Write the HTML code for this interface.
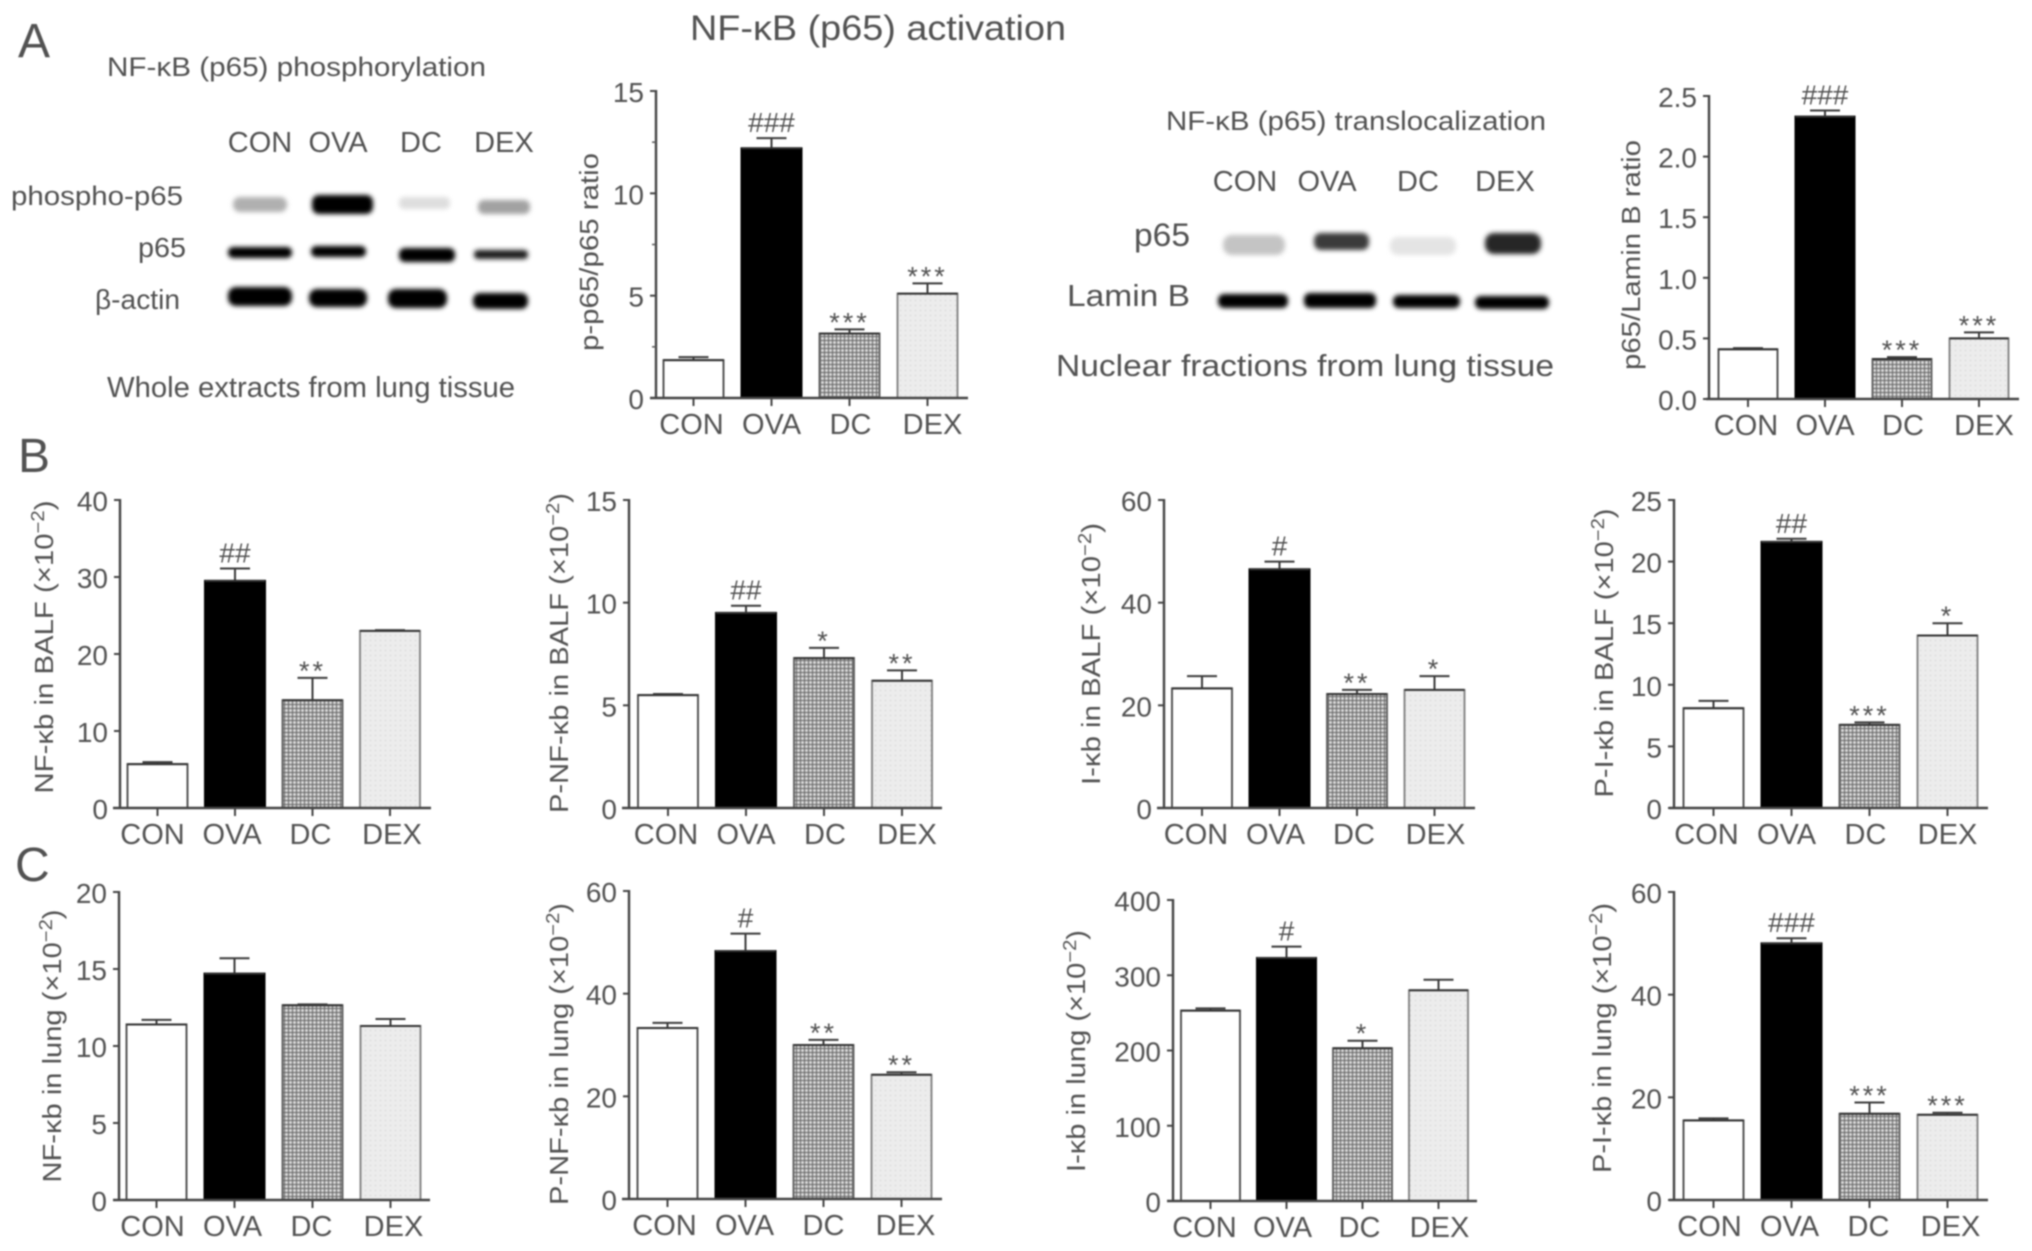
<!DOCTYPE html>
<html lang="en">
<head>
<meta charset="utf-8">
<title>NF-κB (p65) activation</title>
<style>
html,body{margin:0;padding:0;background:#fff;width:2032px;height:1251px;overflow:hidden}
svg{display:block;filter:blur(0.75px)}
text{font-family:"Liberation Sans",sans-serif;fill:#525252}
</style>
</head>
<body>
<svg id="figure" xmlns="http://www.w3.org/2000/svg" width="2032" height="1251" viewBox="0 0 2032 1251">
<defs>
<pattern id="hatch-grid" width="4" height="4" patternUnits="userSpaceOnUse"><rect width="4" height="4" fill="#d6d6d6"/><path d="M0 .5H4M.5 0V4" stroke="#666" stroke-width="1"/></pattern>
<pattern id="dots-light" width="5" height="5" patternUnits="userSpaceOnUse"><rect width="5" height="5" fill="#ececec"/><rect width="1" height="1" fill="#ccc"/></pattern>
<filter id="blot-blur" x="-30%" y="-100%" width="160%" height="300%"><feGaussianBlur stdDeviation="2.4"/></filter>
</defs>
<text x="690" y="40" font-size="35" textLength="376" lengthAdjust="spacingAndGlyphs">NF-κB (p65) activation</text>
<text x="18" y="57" font-size="48">A</text>
<text x="18" y="472" font-size="48">B</text>
<text x="15" y="881" font-size="48">C</text>
<text x="107" y="76" font-size="27" textLength="379" lengthAdjust="spacingAndGlyphs">NF-κB (p65) phosphorylation</text>
<text x="260" y="152" font-size="29" text-anchor="middle">CON</text>
<text x="338" y="152" font-size="29" text-anchor="middle">OVA</text>
<text x="421" y="152" font-size="29" text-anchor="middle">DC</text>
<text x="504" y="152" font-size="29" text-anchor="middle">DEX</text>
<text x="11" y="205" font-size="27" textLength="172" lengthAdjust="spacingAndGlyphs">phospho-p65</text>
<text x="138" y="257" font-size="28" textLength="48" lengthAdjust="spacingAndGlyphs">p65</text>
<text x="95" y="309" font-size="28" textLength="85" lengthAdjust="spacingAndGlyphs">β-actin</text>
<text x="107" y="397" font-size="29" textLength="408" lengthAdjust="spacingAndGlyphs">Whole extracts from lung tissue</text>
<text x="1166" y="130" font-size="27" textLength="380" lengthAdjust="spacingAndGlyphs">NF-κB (p65) translocalization</text>
<text x="1245" y="191" font-size="29" text-anchor="middle">CON</text>
<text x="1327" y="191" font-size="29" text-anchor="middle">OVA</text>
<text x="1418" y="191" font-size="29" text-anchor="middle">DC</text>
<text x="1505" y="191" font-size="29" text-anchor="middle">DEX</text>
<text x="1134" y="246" font-size="32" textLength="56" lengthAdjust="spacingAndGlyphs">p65</text>
<text x="1067" y="306" font-size="31" textLength="123" lengthAdjust="spacingAndGlyphs">Lamin B</text>
<text x="1056" y="376" font-size="31" textLength="498" lengthAdjust="spacingAndGlyphs">Nuclear fractions from lung tissue</text>
<g filter="url(#blot-blur)">
<rect x="233" y="197" width="54" height="15" rx="7" fill="#b0b0b0"/>
<rect x="312" y="195" width="61" height="19" rx="7" fill="#000"/>
<rect x="399" y="197" width="51" height="12" rx="5" fill="#dedede"/>
<rect x="478" y="200" width="52" height="14" rx="6" fill="#a2a2a2"/>
<rect x="228" y="247" width="64" height="11" rx="5" fill="#000"/>
<rect x="311" y="246" width="55" height="11" rx="5" fill="#000"/>
<rect x="399" y="248" width="56" height="14" rx="6" fill="#000"/>
<rect x="474" y="250" width="54" height="9" rx="4" fill="#1c1c1c"/>
<rect x="228" y="287" width="64" height="19" rx="8" fill="#000"/>
<rect x="309" y="289" width="58" height="18" rx="8" fill="#000"/>
<rect x="388" y="289" width="59" height="19" rx="8" fill="#000"/>
<rect x="473" y="293" width="55" height="16" rx="7" fill="#000"/>
</g>
<g filter="url(#blot-blur)">
<rect x="1223" y="235" width="62" height="20" rx="9" fill="#c4c4c4"/>
<rect x="1314" y="233" width="55" height="17" rx="7" fill="#3a3a3a"/>
<rect x="1390" y="237" width="66" height="18" rx="8" fill="#e4e4e4"/>
<rect x="1485" y="233" width="56" height="21" rx="9" fill="#282828"/>
<rect x="1218" y="294" width="70" height="14" rx="6" fill="#000"/>
<rect x="1304" y="293" width="72" height="15" rx="6" fill="#000"/>
<rect x="1393" y="295" width="67" height="13" rx="6" fill="#000"/>
<rect x="1475" y="296" width="74" height="13" rx="6" fill="#000"/>
</g>
</svg>
<script>
const categories = ['CON', 'OVA', 'DC', 'DEX'];

const a1Ticks = ['0', '5', '10', '15'];
const a1Means = [1.85, 12.2, 3.15, 5.1];
const a1Upper = [2.0, 12.7, 3.35, 5.6];
const a1Marks = ['', '###', '***', '***'];

const a2Ticks = ['0.0', '0.5', '1.0', '1.5', '2.0', '2.5'];
const a2Means = [0.41, 2.33, 0.33, 0.5];
const a2Upper = [0.42, 2.38, 0.345, 0.55];
const a2Marks = ['', '###', '***', '***'];

const b1Ticks = ['0', '10', '20', '30', '40'];
const b1Means = [5.7, 29.5, 14, 23];
const b1Upper = [5.95, 31.1, 16.9, 23.1];
const b1Marks = ['', '##', '**', ''];

const b2Ticks = ['0', '5', '10', '15'];
const b2Means = [5.5, 9.5, 7.3, 6.2];
const b2Upper = [5.55, 9.85, 7.8, 6.7];
const b2Marks = ['', '##', '*', '**'];

const b3Ticks = ['0', '20', '40', '60'];
const b3Means = [23.3, 46.5, 22.2, 23];
const b3Upper = [25.7, 48, 23, 25.7];
const b3Marks = ['', '#', '**', '*'];

const b4Ticks = ['0', '5', '10', '15', '20', '25'];
const b4Means = [8.1, 21.6, 6.75, 14];
const b4Upper = [8.7, 21.85, 6.95, 15];
const b4Marks = ['', '##', '***', '*'];

const c1Ticks = ['0', '5', '10', '15', '20'];
const c1Means = [11.4, 14.7, 12.65, 11.3];
const c1Upper = [11.7, 15.7, 12.7, 11.75];
const c1Marks = ['', '', '', ''];

const c2Ticks = ['0', '20', '40', '60'];
const c2Means = [33.3, 48.3, 30, 24.2];
const c2Upper = [34.3, 51.7, 31, 24.7];
const c2Marks = ['', '#', '**', '**'];

const c3Ticks = ['0', '100', '200', '300', '400'];
const c3Means = [253, 323, 203, 280];
const c3Upper = [256, 338, 213, 294];
const c3Marks = ['', '#', '*', ''];

const c4Ticks = ['0', '20', '40', '60'];
const c4Means = [15.5, 50, 16.8, 16.6];
const c4Upper = [15.9, 51, 19, 17];
const c4Marks = ['', '###', '***', '***'];

const labelNudge = [-3, -1, 0, 4];
const barFills = ['#ffffff', '#000000', 'url(#hatch-grid)', 'url(#dots-light)'];
const barStrokes = ['#555', '#000', '#666', '#888'];

const panels = [
  {id: 'p-p65-chart', ticks: a1Ticks, means: a1Means, upper: a1Upper, marks: a1Marks, ax: 656, xl: 650, xr: 968, y0: 398, yt: 91, c0: 693.5, step: 78, w: 60, shift: 1, title: 'p-p65/p65 ratio', sup: '', tx: 589, tmid: 252, tlen: 198, minor: 2.5},
  {id: 'lamin-ratio-chart', ticks: a2Ticks, means: a2Means, upper: a2Upper, marks: a2Marks, ax: 1709, xl: 1706, xr: 2019, y0: 399, yt: 96, c0: 1748, step: 77, w: 59, shift: 1, title: 'p65/Lamin B ratio', sup: '', tx: 1631, tmid: 255, tlen: 230},
  {id: 'nfkb-balf-chart', ticks: b1Ticks, means: b1Means, upper: b1Upper, marks: b1Marks, ax: 120, xl: 113, xr: 431, y0: 808, yt: 500, c0: 157.5, step: 77.5, w: 60, shift: -2, title: 'NF-κb in BALF (×10', sup: '−2', tx: 44, tmid: 647, tlen: 293},
  {id: 'p-nfkb-balf-chart', ticks: b2Ticks, means: b2Means, upper: b2Upper, marks: b2Marks, ax: 629, xl: 622, xr: 942, y0: 808, yt: 500, c0: 668, step: 78, w: 60, shift: 1, title: 'P-NF-κb in BALF (×10', sup: '−2', tx: 559, tmid: 653, tlen: 320},
  {id: 'ikb-balf-chart', ticks: b3Ticks, means: b3Means, upper: b3Upper, marks: b3Marks, ax: 1164, xl: 1157, xr: 1475, y0: 808, yt: 500, c0: 1202, step: 77.5, w: 60, shift: -3, title: 'I-κb in BALF (×10', sup: '−2', tx: 1091, tmid: 654, tlen: 262},
  {id: 'p-ikb-balf-chart', ticks: b4Ticks, means: b4Means, upper: b4Upper, marks: b4Marks, ax: 1674, xl: 1669, xr: 1988, y0: 808, yt: 500, c0: 1713.5, step: 78, w: 60, shift: -4, title: 'P-I-κb in BALF (×10', sup: '−2', tx: 1604, tmid: 653, tlen: 289},
  {id: 'nfkb-lung-chart', ticks: c1Ticks, means: c1Means, upper: c1Upper, marks: c1Marks, ax: 119, xl: 113, xr: 430, y0: 1200, yt: 892, c0: 156.5, step: 78, w: 60, shift: -1, title: 'NF-κb in lung (×10', sup: '−2', tx: 52, tmid: 1046, tlen: 273},
  {id: 'p-nfkb-lung-chart', ticks: c2Ticks, means: c2Means, upper: c2Upper, marks: c2Marks, ax: 629, xl: 622, xr: 942, y0: 1199, yt: 891, c0: 667.5, step: 78, w: 60, shift: 0, title: 'P-NF-κb in lung (×10', sup: '−2', tx: 559, tmid: 1054, tlen: 302},
  {id: 'ikb-lung-chart', ticks: c3Ticks, means: c3Means, upper: c3Upper, marks: c3Marks, ax: 1173, xl: 1167, xr: 1477, y0: 1201, yt: 900, c0: 1210.5, step: 76, w: 59, shift: -3, title: 'I-κb in lung (×10', sup: '−2', tx: 1076, tmid: 1051, tlen: 242},
  {id: 'p-ikb-lung-chart', ticks: c4Ticks, means: c4Means, upper: c4Upper, marks: c4Marks, ax: 1674, xl: 1669, xr: 1988, y0: 1200, yt: 892, c0: 1713.5, step: 78, w: 60, shift: -1, title: 'P-I-κb in lung (×10', sup: '−2', tx: 1602, tmid: 1038, tlen: 270}
];

const NS = 'http://www.w3.org/2000/svg';
const figure = document.getElementById('figure');

function make(tag, attrs, parent) {
  const node = document.createElementNS(NS, tag);
  Object.keys(attrs).forEach(function (k) { node.setAttribute(k, attrs[k]); });
  parent.appendChild(node);
  return node;
}

function yScale(p) {
  const maxTick = Number(p.ticks[p.ticks.length - 1]);
  return function (v) { return p.y0 - (v / maxTick) * (p.y0 - p.yt); };
}

function xCenter(p, i) {
  return p.c0 + i * p.step;
}

panels.forEach(function (p) {
  const y = yScale(p);
  const g = make('g', {}, figure);
  
  

  categories.forEach(function (cat, i) {
    const cx = xCenter(p, i);
    const key = cat.toLowerCase();
    const top = y(p.means[i]);
    const up = y(p.upper[i]);

    const stem = make('line', {x1: cx, x2: cx, y1: top, y2: up, stroke: '#3a3a3a', 'stroke-width': 2}, g);
    
    

    const cap = make('line', {x1: cx - 15, x2: cx + 15, y1: up, y2: up, stroke: '#3a3a3a', 'stroke-width': 2}, g);
    
    

    const bar = make('rect', {x: cx - p.w / 2, y: top, width: p.w, height: p.y0 - top, fill: barFills[i], stroke: barStrokes[i], 'stroke-width': 2}, g);
    
    

    const topEdge = make('line', {x1: cx - p.w / 2, x2: cx + p.w / 2, y1: top, y2: top, stroke: '#333', 'stroke-width': 2}, g);
    
    

    const tick = make('line', {x1: cx, x2: cx, y1: p.y0, y2: p.y0 + 8, stroke: '#444', 'stroke-width': 2}, g);
    
    

    const label = make('text', {x: cx + labelNudge[i] + p.shift, y: p.y0 + 36, 'font-size': 29, 'text-anchor': 'middle'}, g);
    label.textContent = cat;
    
    

    const mark = p.marks[i];
    if (mark) {
      const isHash = mark.charAt(0) === '#';
      const sig = make('text', {
        x: cx,
        y: isHash ? up - 6 : up + 2,
        'font-size': isHash ? 28 : 27,
        'text-anchor': 'middle',
        'letter-spacing': isHash ? 0 : 3
      }, g);
      sig.textContent = mark;
      
      
    }
  });

  const yAxis = make('line', {x1: p.ax, x2: p.ax, y1: p.yt - 1, y2: p.y0, stroke: '#444', 'stroke-width': 2.4}, g);
  
  

  const xAxis = make('line', {x1: p.xl, x2: p.xr, y1: p.y0, y2: p.y0, stroke: '#444', 'stroke-width': 2.6}, g);
  
  

  p.ticks.forEach(function (t) {
    const ty = y(Number(t));
    const tick = make('line', {x1: p.ax - 6, x2: p.ax, y1: ty, y2: ty, stroke: '#444', 'stroke-width': 2}, g);
    
    

    const label = make('text', {x: p.ax - 12, y: ty + 11, 'font-size': 28, 'text-anchor': 'end'}, g);
    label.textContent = t;
    
    
  });

  if (p.minor) {
    const maxTick = Number(p.ticks[p.ticks.length - 1]);
    for (let v = p.minor; v < maxTick; v += p.minor * 2) {
      const my = y(v);
      const minor = make('line', {x1: p.ax - 4, x2: p.ax, y1: my, y2: my, stroke: '#555', 'stroke-width': 1.5}, g);
      
      
    }
  }

  const title = make('text', {
    transform: 'translate(' + p.tx + ',' + p.tmid + ') rotate(-90)',
    x: 0, y: 9, 'font-size': 26, 'text-anchor': 'middle',
    textLength: p.tlen, lengthAdjust: 'spacingAndGlyphs'
  }, g);
  
  
  title.appendChild(document.createTextNode(p.title));
  if (p.sup) {
    const sup = make('tspan', {dy: -9, 'font-size': 18}, title);
    sup.textContent = p.sup;
    const close = make('tspan', {dy: 9}, title);
    close.textContent = ')';
  }
});
</script>
</body>
</html>
